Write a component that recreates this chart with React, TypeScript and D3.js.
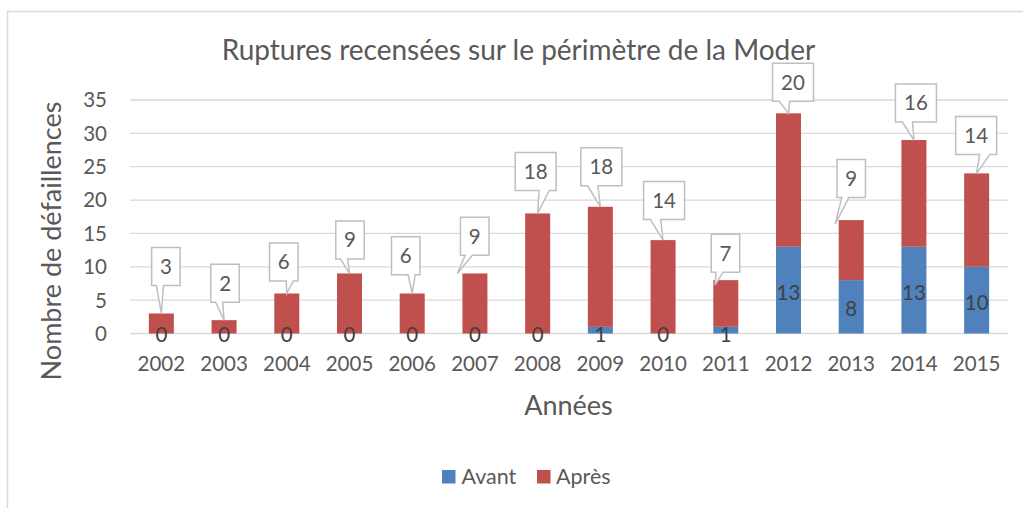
import React from "react";
import * as d3 from "d3";

const years = ["2002","2003","2004","2005","2006","2007","2008","2009","2010","2011","2012","2013","2014","2015"];
const avant = [0,0,0,0,0,0,0,1,0,1,13,8,13,10];
const apres = [3,2,6,9,6,9,18,18,14,7,20,9,16,14];
const yTicks = [0,5,10,15,20,25,30,35];
const seriesNames = ["Avant","Après"];

// callout layout (manual placement as in the original)
const tipDx = [0,0,0,0,0,-17.6,0,0,0,-10.8,0,-16,0,0];
const tipDy = [0,0,0,0,0,0,0,0,0,5,0,4,0,0];
const boxDx = [4.5,1,-3,0.5,-6.5,17.4,-2,1,1,10.5,4.5,16,2,-0.5];
const boxDy = [-47,-37,-31.5,-33.5,-37.7,-37.3,-42,-40,-39.5,-32,-31,-45.5,-37,-38];

const W = 1023, H = 508;
const left = 130, right = 1008, top = 100, bottom = 333.5;
const FONT = "Lato, 'Open Sans', sans-serif";
const TXT = "#595959";
const BLUE = "#4F81BD", RED = "#C0504D";

export default function App() {
  const xc = d3.scaleBand<string>().domain(years).range([left, right]);
  const y = d3.scaleLinear().domain([0, 35]).range([bottom, top]);
  const rows = years.map((yr, i) => ({ year: yr, Avant: avant[i], "Après": apres[i] }));
  const stack = d3.stack<any>().keys(seriesNames)(rows);
  const colors = [BLUE, RED];
  const bw = 25;

  const callouts = years.map((yr, i) => {
    const cx = (xc(yr) as number) + xc.bandwidth() / 2;
    const tx = cx + tipDx[i];
    const ty = y(avant[i] + apres[i]) + tipDy[i];
    const label = String(apres[i]);
    const w = label.length > 1 ? 41 : 28.5;
    const h = 38;
    const bcx = tx + boxDx[i];
    const bcy = ty + boxDy[i];
    const l = bcx - w / 2, r = bcx + w / 2, t = bcy - h / 2, b = bcy + h / 2;
    const tipRight = tx > bcx;
    const x1 = l + w * (tipRight ? 7 : 2) / 12;
    const x2 = l + w * (tipRight ? 10 : 5) / 12;
    const d = `M${l},${t}L${r},${t}L${r},${b}L${x2},${b}L${tx},${ty}L${x1},${b}L${l},${b}Z`;
    return { d, label, bcx, bcy };
  });

  return (
    <svg width={W} height={H} style={{ position: "absolute", left: 0, top: 0, background: "#fff" }} fontFamily={FONT}>
      <rect x={7.5} y={11.5} width={W + 20} height={H + 20} fill="#fff" stroke="#d9d9d9" strokeWidth={1.5} />
      <text x={518.5} y={60} textAnchor="middle" fontSize={28} fill={TXT}>Ruptures recensées sur le périmètre de la Moder</text>
      {yTicks.map(t => (
        <g key={t}>
          <line x1={left} x2={right} y1={y(t)} y2={y(t)} stroke="#d9d9d9" strokeWidth={1.3} />
          <text x={107} y={y(t)} dy="0.36em" textAnchor="end" fontSize={20.5} fill={TXT}>{t}</text>
        </g>
      ))}
      {stack.map((s, si) => (
        <g key={s.key} fill={colors[si]}>
          {s.map((d, i) => {
            const cx = (xc(years[i]) as number) + xc.bandwidth() / 2;
            return <rect key={i} x={cx - bw / 2} width={bw} y={y(d[1])} height={y(d[0]) - y(d[1])} />;
          })}
        </g>
      ))}
      {years.map((yr) => {
        const cx = (xc(yr) as number) + xc.bandwidth() / 2;
        return (
          <text key={yr} x={cx} y={371} textAnchor="middle" fontSize={20.5} fill={TXT}>{yr}</text>
        );
      })}
      {years.map((yr, i) => {
        const cx = (xc(yr) as number) + xc.bandwidth() / 2;
        const cy = avant[i] > 1 ? (y(0) + y(avant[i])) / 2 + 2 : y(0) + 1.5;
        return (
          <text key={"a" + yr} x={cx} y={cy} dy="0.36em" textAnchor="middle" fontSize={20.5} fill="#404040">{avant[i]}</text>
        );
      })}
      {callouts.map((c, i) => (
        <g key={"c" + i}>
          <path d={c.d} fill="#fff" stroke="#bfbfbf" strokeWidth={1.5} />
          <text x={c.bcx} y={c.bcy} dy="0.36em" textAnchor="middle" fontSize={20.5} fill={TXT}>{c.label}</text>
        </g>
      ))}
      <text transform={`translate(61,241) rotate(-90)`} textAnchor="middle" fontSize={27} fill={TXT}>Nombre de défaillences</text>
      <text x={568.5} y={415} textAnchor="middle" fontSize={27} fill={TXT}>Années</text>
      <rect x={442} y={470} width={13.5} height={13.5} fill={BLUE} />
      <text x={461.5} y={483.5} fontSize={21.5} fill={TXT}>Avant</text>
      <rect x={537} y={470} width={13.5} height={13.5} fill={RED} />
      <text x={556} y={483.5} fontSize={21.5} fill={TXT}>Après</text>
    </svg>
  );
}
